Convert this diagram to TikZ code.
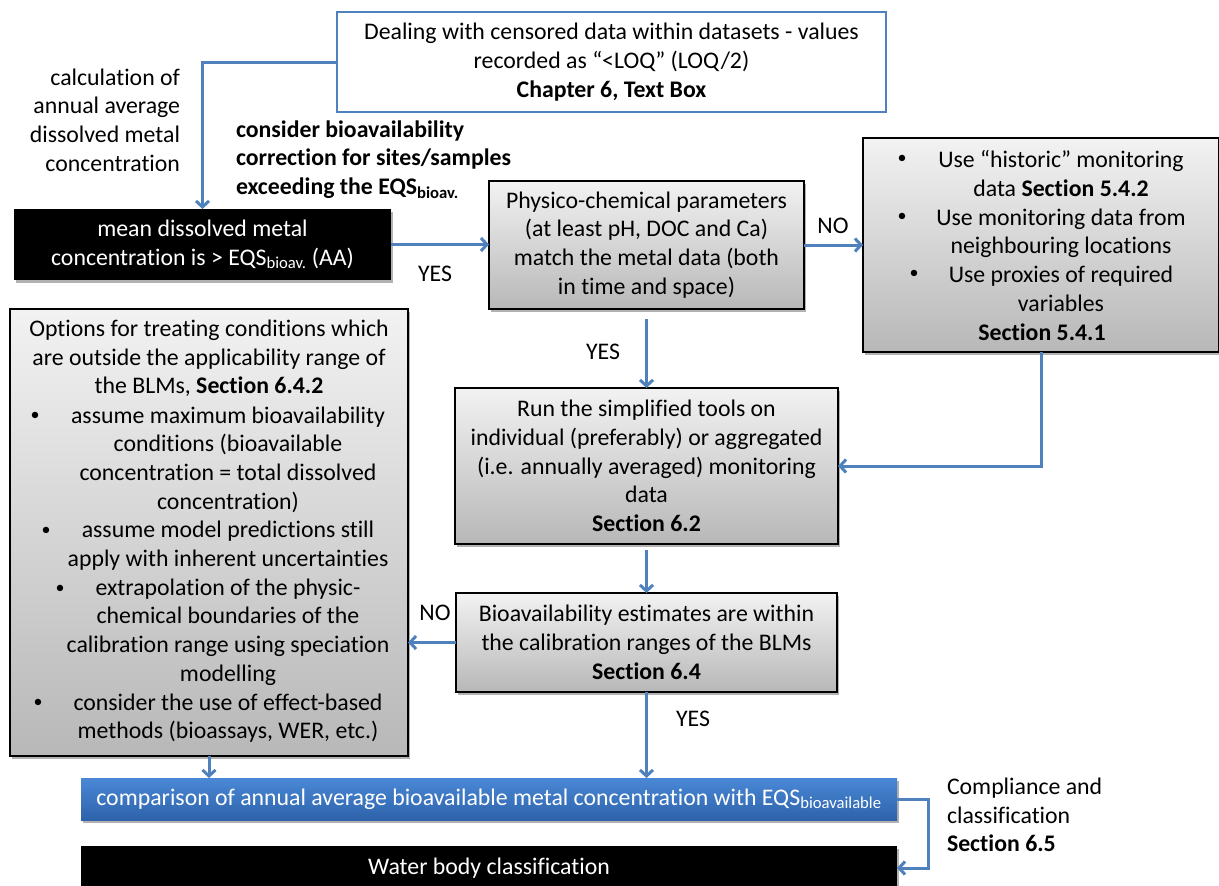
\documentclass[tikz,border=0pt]{standalone}
\usepackage{fontspec}
\setmainfont{Carlito}[Ligatures={NoCommon}]
\usetikzlibrary{arrows.meta,shadows}
\definecolor{flowblue}{HTML}{4F81BD}
\definecolor{bartop}{HTML}{4A88D6}
\definecolor{barbottom}{HTML}{2D62AA}
\tikzset{
  every node/.style={inner sep=0pt, outer sep=0pt},
  lbl/.style={align=center},
  shadowed/.style={drop shadow={shadow xshift=2pt, shadow yshift=-3pt, opacity=0.3, fill=black}},
  graybox/.style={draw=black, line width=1.3pt, top color=black!5, bottom color=black!28, shadowed},
  notebox/.style={draw=flowblue, line width=2.5pt, fill=white},
  blackbox/.style={fill=black, text=white, shadowed},
  bluebar/.style={top color=bartop, bottom color=barbottom, text=white, shadowed},
  flow/.style={draw=flowblue, line width=3pt, -{Straight Barb[length=6pt,width=13pt]}},
  bul/.style={anchor=center, font=\fontsize{18}{20}\selectfont}
}
\begin{document}
\begin{tikzpicture}[x=1pt, y=-1pt, font=\fontsize{23.8}{28.7}\selectfont]
\useasboundingbox (0,0) rectangle (1219,886);

% ---- boxes ----
\node[notebox, minimum width=549pt, minimum height=100pt, lbl] (note) at (611.5,62)
  {Dealing with censored data within datasets - values\\ recorded as “<LOQ” (LOQ/2)\\ \textbf{Chapter 6, Text Box}};

\node[blackbox, minimum width=377pt, minimum height=71pt, lbl] (mean) at (202.5,244.5)
  {mean dissolved metal\\ concentration is > EQS\textsubscript{bioav.} (AA)};

\node[graybox, minimum width=315pt, minimum height=128pt, lbl] (phys) at (646.5,245)
  {Physico-chemical parameters\\ (at least pH, DOC and Ca)\\ match the metal data (both\\ in time and space)};

\node[graybox, minimum width=356pt, minimum height=214pt] (alt) at (1041,245) {};
\node[lbl] (alttext) at (1061,231)
  {Use “historic” monitoring\\ data \textbf{Section 5.4.2}\\ Use monitoring data from\\ neighbouring locations\\ Use proxies of required\\ variables};
\node (altsec) at (1042,332) {\textbf{Section 5.4.1}};
\node[bul] (ab1) at (902,159) {\textbullet};
\node[bul] (ab2) at (902,217) {\textbullet};
\node[bul] (ab3) at (914,274) {\textbullet};

\node[graybox, minimum width=383pt, minimum height=156pt, lbl] (run) at (646.5,466)
  {Run the simplified tools on\\ individual (preferably) or aggregated\\ (i.e. annually averaged) monitoring\\ data\\ \textbf{Section 6.2}};

\node[graybox, minimum width=381pt, minimum height=99pt, lbl] (range) at (646.5,642.5)
  {Bioavailability estimates are within\\ the calibration ranges of the BLMs\\ \textbf{Section 6.4}};

\node[graybox, minimum width=398pt, minimum height=447pt] (opts) at (209,532.5) {};
\node[lbl] (optshead) at (209,358.5)
  {Options for treating conditions which\\ are outside the applicability range of\\ the BLMs, \textbf{Section 6.4.2}};
\node[lbl] (optslist) at (228,574.5)
  {assume maximum bioavailability\\ conditions (bioavailable\\ concentration = total dissolved\\ concentration)\\ assume model predictions still\\ apply with inherent uncertainties\\ extrapolation of the physic-\\ chemical boundaries of the\\ calibration range using speciation\\ modelling\\ consider the use of effect-based\\ methods (bioassays, WER, etc.)};
\node[bul] (ob1) at (35,416) {\textbullet};
\node[bul] (ob2) at (46,531) {\textbullet};
\node[bul] (ob3) at (60,589) {\textbullet};
\node[bul] (ob4) at (38,703) {\textbullet};

\node[bluebar, minimum width=816pt, minimum height=42pt] (compare) at (489,799)
  {comparison of annual average bioavailable metal concentration with EQS\textsubscript{bioavailable}};

\node[blackbox, minimum width=816pt, minimum height=44pt] (water) at (489,868)
  {Water body classification};

% ---- free text ----
\node[align=right, anchor=east] (calc) at (180,120)
  {calculation of\\ annual average\\ dissolved metal\\ concentration};
\node[align=left, anchor=west] (consider) at (236,159.5)
  {\textbf{consider bioavailability}\\ \textbf{correction for sites/samples}\\ \textbf{exceeding the EQS\textsubscript{bioav.}}};
\node[align=left, anchor=west] (comply) at (947,815)
  {Compliance and\\ classification\\ \textbf{Section 6.5}};

% ---- branch labels ----
\node (yes1) at (435,274) {YES};
\node (no1) at (833,226) {NO};
\node (yes2) at (603,352) {YES};
\node (no2) at (435,613) {NO};
\node (yes3) at (693,719) {YES};

% ---- connectors ----
\draw[flow] (note.west) -| (mean.north);
\draw[flow] (mean.east) -- (mean.east -| phys.west);
\draw[flow] (phys.east) -- (phys.east -| alt.west);
\draw[flow, shorten <=10pt] (phys.south) -- (run.north);
\draw[flow] (alt.south) |- (run.east);
\draw[flow, shorten <=6pt] (run.south) -- (range.north);
\draw[flow] (range.west) -- (range.west -| opts.east);
\draw[flow] (opts.south) -- (opts.south |- compare.north);
\draw[flow] (range.south) -- (range.south |- compare.north);
\coordinate (elbow) at (928,799);
\draw[flow] (compare.east) -- (elbow) |- (water.east);
\end{tikzpicture}
\end{document}
